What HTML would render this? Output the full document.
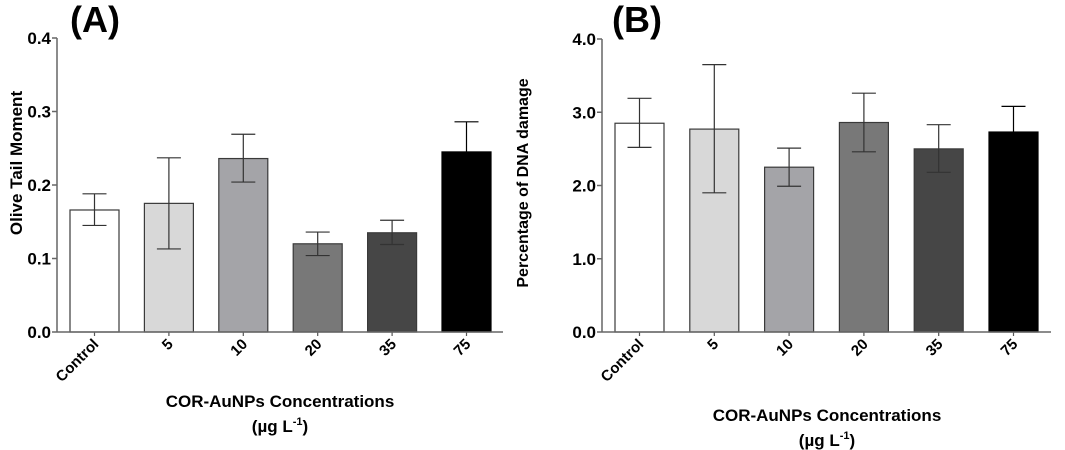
<!DOCTYPE html>
<html><head><meta charset="utf-8"><style>
html,body{margin:0;padding:0;background:#fff;}
svg{display:block;font-family:"Liberation Sans",sans-serif;font-weight:bold;}
</style></head><body>
<svg id="s" width="1065" height="450" viewBox="0 0 1065 450"></svg>
<script>
const categories = ["Control","5","10","20","35","75"];
const valuesA = [0.166,0.175,0.236,0.120,0.135,0.245];
const errLoA = [0.145,0.113,0.204,0.104,0.119,0.204];
const errHiA = [0.188,0.237,0.269,0.136,0.152,0.286];
const ticksA = ["0.0","0.1","0.2","0.3","0.4"];
const tickValsA = [0,0.1,0.2,0.3,0.4];
const valuesB = [2.85,2.77,2.25,2.86,2.50,2.73];
const errLoB = [2.52,1.90,1.99,2.46,2.18,2.38];
const errHiB = [3.19,3.65,2.51,3.26,2.83,3.08];
const ticksB = ["0.0","1.0","2.0","3.0","4.0"];
const tickValsB = [0,1,2,3,4];
const fills = ["#ffffff","#d8d8d8","#a4a4a8","#787878","#464646","#000000"];

const NS="http://www.w3.org/2000/svg";
const svg=document.getElementById('s');
function mk(tag,attrs,parent,text){const e=document.createElementNS(NS,tag);for(const k in attrs)e.setAttribute(k,attrs[k]);if(text!==undefined)e.textContent=text;(parent||svg).appendChild(e);return e;}

function panel(p){
  const g=mk('g',{});
  
  
  const y=v=>p.y0-(v/p.max)*(p.y0-p.y1);
  const x=i=>p.bx0+i*p.step;
  p.vals.forEach((v,i)=>{
    const r=mk('rect',{x:x(i),y:y(v),width:p.bw,height:p.y0-y(v),fill:fills[i],stroke:i==5?'#000':'#3a3a3a','stroke-width':1.2},g);
    
    
    const cx=x(i)+p.bw/2;
    const eb=mk('path',{d:`M${cx},${y(p.lo[i])}V${y(p.hi[i])}M${cx-12},${y(p.hi[i])}H${cx+12}M${cx-12},${y(p.lo[i])}H${cx+12}`,stroke:i==5?'#000':'#333','stroke-width':1.2,fill:'none'},g);
    
    
    mk('line',{x1:cx,x2:cx,y1:p.y0,y2:p.y0+4,stroke:'#555','stroke-width':1.2},g);
    const t=mk('text',{x:cx+5,y:p.y0+13,'font-size':15,'text-anchor':'end',transform:`rotate(-45 ${cx+5} ${p.y0+13})`},g,categories[i]);
    
    
  });
  mk('line',{x1:p.ax,x2:p.ax,y1:p.y1,y2:p.y0,stroke:'#666','stroke-width':1.5},g);
  mk('line',{x1:p.ax,x2:p.xend,y1:p.y0,y2:p.y0,stroke:'#666','stroke-width':1.5},g);
  p.tv.forEach((v,i)=>{
    mk('line',{x1:p.ax-5,x2:p.ax,y1:y(v),y2:y(v),stroke:'#666','stroke-width':1.5},g);
    const t=mk('text',{x:p.ax-6,y:y(v)+6,'font-size':17,'text-anchor':'end'},g,p.tl[i]);
    
    
  });
  const yt=mk('text',{x:p.ytx,y:p.yty,'font-size':p.yfs,'text-anchor':'middle',transform:`rotate(-90 ${p.ytx} ${p.yty})`},g,p.ytitle);
  
  
  const xt=mk('text',{x:p.xtx,y:p.xty,'font-size':17,'text-anchor':'middle'},g,'COR-AuNPs Concentrations');
  
  
  const u=mk('text',{x:p.xtx,y:p.xty+25,'font-size':17,'text-anchor':'middle'},g);
  
  
  mk('tspan',{},u,'(\u00b5g L');
  mk('tspan',{dy:-7,'font-size':11},u,'-1');
  mk('tspan',{dy:7},u,')');
  const pl=mk('text',{x:p.plx,y:32,'font-size':36},g,p.label);
  
  
}
panel({name:'panel-a',vals:valuesA,lo:errLoA,hi:errHiA,max:0.4,tv:tickValsA,tl:ticksA,y0:332,y1:38,ax:57,xend:503,bx0:70,step:74.4,bw:49,ytitle:'Olive Tail Moment',ytx:22,yty:163,yfs:17,xtx:280,xty:407,plx:70,label:'(A)'});
panel({name:'panel-b',vals:valuesB,lo:errLoB,hi:errHiB,max:4,tv:tickValsB,tl:ticksB,y0:332,y1:39,ax:602,xend:1051,bx0:615,step:74.8,bw:49,ytitle:'Percentage of DNA damage',ytx:528,yty:183,yfs:16,xtx:827,xty:421,plx:612,label:'(B)'});
</script>
</body></html>
